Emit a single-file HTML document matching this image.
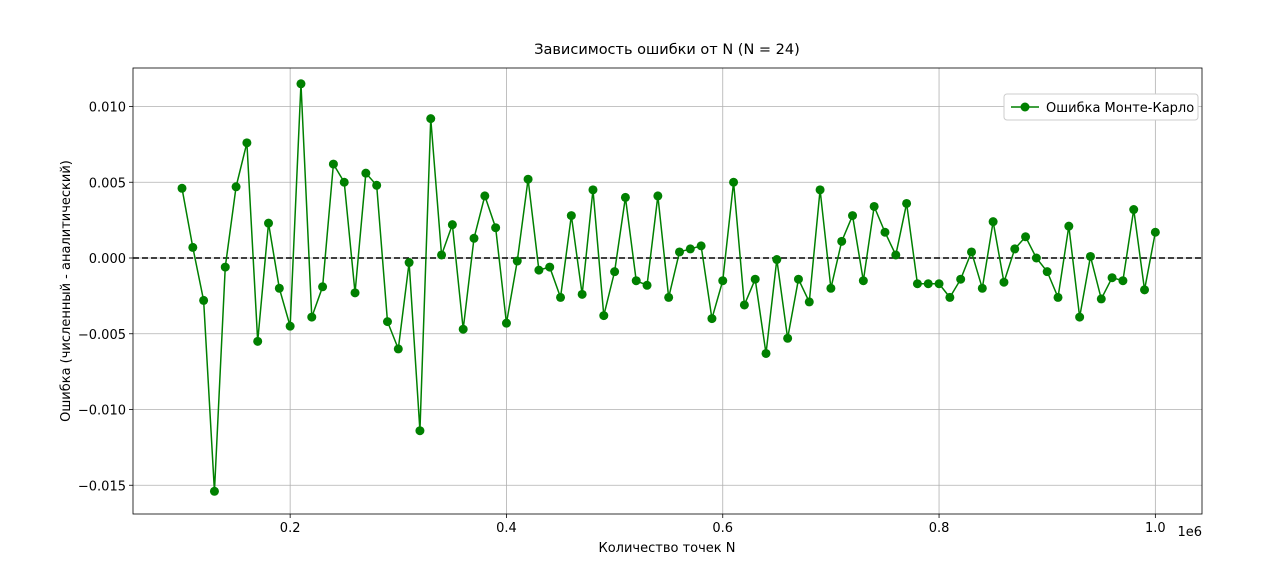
<!DOCTYPE html>
<html><head><meta charset="utf-8"><style>
body{margin:0;background:#fff;}
svg text{font-family:"DejaVu Sans","Liberation Sans",sans-serif;fill:#000;}
</style></head><body>
<svg id="chart" width="1280" height="566" xmlns="http://www.w3.org/2000/svg">
<rect width="1280" height="566" fill="#fff"/>
<g id="grid"></g>
<g id="axes"></g>
<g id="series"></g>
<text x="667" y="54" font-size="14.5" text-anchor="middle">Зависимость ошибки от N (N = 24)</text>
<text x="667" y="552" font-size="13" text-anchor="middle">Количество точек N</text>
<text transform="translate(70,291) rotate(-90)" font-size="13" text-anchor="middle">Ошибка (численный - аналитический)</text>
<text x="1202" y="536" font-size="13" text-anchor="end">1e6</text>
<g>
<rect x="1004" y="94" width="194" height="26" rx="3" fill="#fff" stroke="#ccc"/>
<line x1="1011" y1="107" x2="1039" y2="107" stroke="#008000" stroke-width="1.5"/>
<circle cx="1025" cy="107" r="4.5" fill="#008000"/>
<text x="1046" y="112" font-size="13">Ошибка Монте-Карло</text>
</g>
</svg>
<script>
const xTicks=[0.2,0.4,0.6,0.8,1.0];
const xTickLabels=["0.2","0.4","0.6","0.8","1.0"];
const yTicks=[-0.015,-0.010,-0.005,0.000,0.005,0.010];
const yTickLabels=["−0.015","−0.010","−0.005","0.000","0.005","0.010"];
const nStart=0.10, nStep=0.01;
const errors=[0.0046,0.0007,-0.0028,-0.0154,-0.0006,0.0047,0.0076,-0.0055,0.0023,-0.0020,
-0.0045,0.0115,-0.0039,-0.0019,0.0062,0.0050,-0.0023,0.0056,0.0048,-0.0042,
-0.0060,-0.0003,-0.0114,0.0092,0.0002,0.0022,-0.0047,0.0013,0.0041,0.0020,
-0.0043,-0.0002,0.0052,-0.0008,-0.0006,-0.0026,0.0028,-0.0024,0.0045,-0.0038,
-0.0009,0.0040,-0.0015,-0.0018,0.0041,-0.0026,0.0004,0.0006,0.0008,-0.0040,
-0.0015,0.0050,-0.0031,-0.0014,-0.0063,-0.0001,-0.0053,-0.0014,-0.0029,0.0045,
-0.0020,0.0011,0.0028,-0.0015,0.0034,0.0017,0.0002,0.0036,-0.0017,-0.0017,
-0.0017,-0.0026,-0.0014,0.0004,-0.0020,0.0024,-0.0016,0.0006,0.0014,0.0000,
-0.0009,-0.0026,0.0021,-0.0039,0.0001,-0.0027,-0.0013,-0.0015,0.0032,-0.0021,0.0017];
const L=133,R=1202,T=68,B=514;
const xs=v=>182+(v-0.1)*1081.5;
const ys=v=>258-v*15150;
const NS="http://www.w3.org/2000/svg";
function mk(tag,attrs,parent){const e=document.createElementNS(NS,tag);for(const k in attrs)e.setAttribute(k,attrs[k]);parent.appendChild(e);return e;}
const grid=document.getElementById('grid'),axes=document.getElementById('axes'),ser=document.getElementById('series');
xTicks.forEach((t,i)=>{const x=xs(t);
 const g=mk('line',{x1:x,x2:x,y1:T,y2:B,stroke:'#b0b0b0','stroke-width':0.8},grid);
 
 
 mk('line',{x1:x,x2:x,y1:B,y2:B+4,stroke:'#000','stroke-width':0.8},axes);
 const tx=mk('text',{x:x,y:B+18,'font-size':13,'text-anchor':'middle'},axes);tx.textContent=xTickLabels[i];
 
 
});
yTicks.forEach((t,i)=>{const y=ys(t);
 const g=mk('line',{x1:L,x2:R,y1:y,y2:y,stroke:'#b0b0b0','stroke-width':0.8},grid);
 
 
 mk('line',{x1:L-4,x2:L,y1:y,y2:y,stroke:'#000','stroke-width':0.8},axes);
 const tx=mk('text',{x:L-7,y:y+5,'font-size':13,'text-anchor':'end'},axes);tx.textContent=yTickLabels[i];
 
 
});
const fr=mk('rect',{x:L,y:T,width:R-L,height:B-T,fill:'none',stroke:'#000','stroke-width':0.8},axes);


const zl=mk('line',{x1:L,x2:R,y1:ys(0),y2:ys(0),stroke:'#000','stroke-width':1.5,'stroke-dasharray':'6,3'},ser);


const pts=errors.map((v,i)=>[xs(nStart+i*nStep),ys(v)]);
const pl=mk('polyline',{points:pts.map(p=>p.join(',')).join(' '),fill:'none',stroke:'#008000','stroke-width':1.5},ser);


pts.forEach(p=>{const c=mk('circle',{cx:p[0],cy:p[1],r:4.5,fill:'#008000'},ser);
 
 
});
</script>
</body></html>
